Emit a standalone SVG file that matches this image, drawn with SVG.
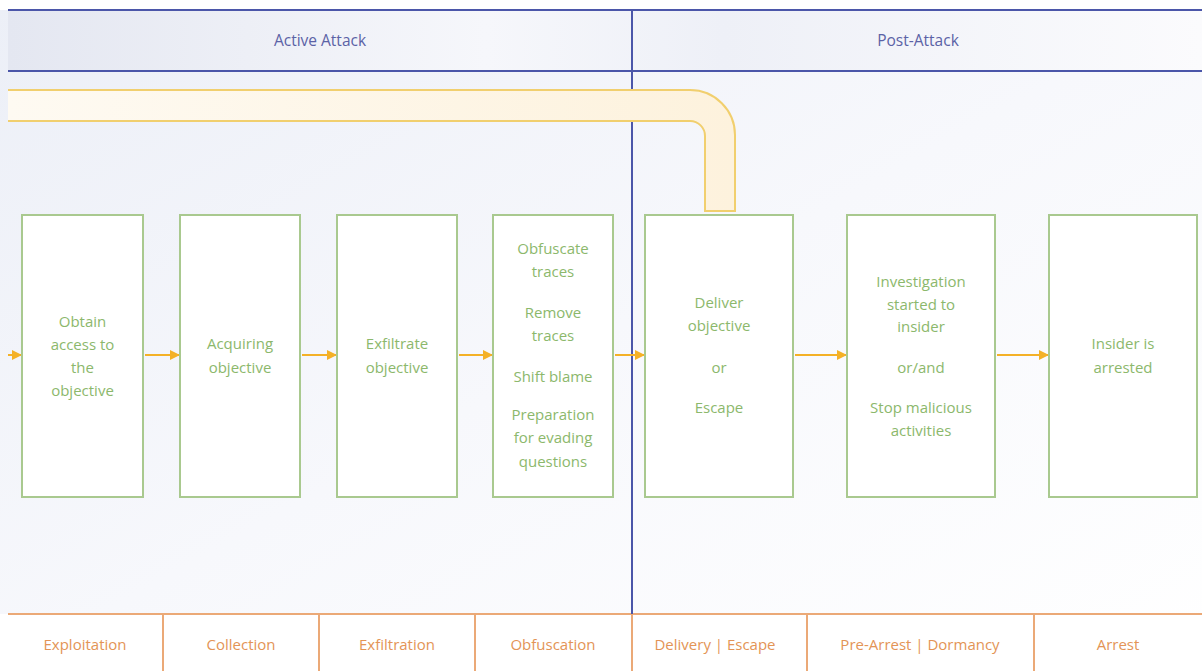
<svg xmlns="http://www.w3.org/2000/svg" width="1202" height="671" viewBox="0 0 1202 671">
<defs>
<linearGradient id="bg" x1="0" y1="0" x2="1" y2="1">
<stop offset="0" stop-color="#eceff7"/>
<stop offset="0.5" stop-color="#f7f8fc"/>
<stop offset="1" stop-color="#ffffff"/>
</linearGradient>
<linearGradient id="hdr" x1="0" y1="0" x2="1" y2="0">
<stop offset="0" stop-color="#e4e7f1"/>
<stop offset="0.4" stop-color="#f6f7fb"/>
<stop offset="0.6" stop-color="#eef0f7"/>
<stop offset="1" stop-color="#fbfbfd"/>
</linearGradient>
<linearGradient id="pipe" x1="0" y1="0" x2="1" y2="0">
<stop offset="0" stop-color="#fefaf2"/>
<stop offset="1" stop-color="#fdf2dd"/>
</linearGradient>
<marker id="ah" viewBox="0 0 10 10" refX="9" refY="5" markerWidth="10" markerHeight="10" markerUnits="userSpaceOnUse" orient="auto">
<path d="M0,0 L10,5 L0,10 Z" fill="#f4b127"/>
</marker>
<style>
.box{fill:#ffffff;stroke:#a9c98f;stroke-width:2}
.bt{font-family:"Open Sans","Liberation Sans",sans-serif;font-size:15px;fill:#8cb86c;text-anchor:middle}
.ht{font-family:"Open Sans","Liberation Sans",sans-serif;font-size:15.5px;fill:#5b62a6;text-anchor:middle}
.ft{font-family:"Open Sans","Liberation Sans",sans-serif;font-size:15px;fill:#e39456;text-anchor:middle}
.blue{stroke:#4b56a9;stroke-width:2;fill:none}
.org{stroke:#eba977;stroke-width:2;fill:none}
.arr{stroke:#f4b127;stroke-width:2;fill:none;marker-end:url(#ah)}
</style>
</defs>
<rect x="0" y="0" width="1202" height="671" fill="url(#bg)"/>
<rect x="0" y="0" width="1202" height="10" fill="#ffffff"/>
<g id="header">
<rect x="8" y="10" width="1194" height="61" fill="url(#hdr)"/>
<line class="blue" x1="8" y1="10" x2="1202" y2="10"/>
<line class="blue" x1="8" y1="71" x2="1202" y2="71"/>
<text class="ht" x="320" y="46">Active Attack</text>
<text class="ht" x="918" y="46">Post-Attack</text>
</g>
<g id="footer">
<rect x="0" y="614" width="1202" height="57" fill="#ffffff"/>
<line class="org" x1="8" y1="614" x2="1202" y2="614"/>
<line class="org" x1="163" y1="614" x2="163" y2="671"/>
<line class="org" x1="319" y1="614" x2="319" y2="671"/>
<line class="org" x1="475" y1="614" x2="475" y2="671"/>
<line class="org" x1="632" y1="614" x2="632" y2="671"/>
<line class="org" x1="807" y1="614" x2="807" y2="671"/>
<line class="org" x1="1034" y1="614" x2="1034" y2="671"/>
<text class="ft" x="85" y="650">Exploitation</text>
<text class="ft" x="241" y="650">Collection</text>
<text class="ft" x="397" y="650">Exfiltration</text>
<text class="ft" x="553" y="650">Obfuscation</text>
<text class="ft" x="715" y="650">Delivery | Escape</text>
<text class="ft" x="920" y="650">Pre-Arrest | Dormancy</text>
<text class="ft" x="1118" y="650">Arrest</text>
</g>
<line class="blue" x1="632" y1="10" x2="632" y2="614"/>
<g id="connectors">
<path d="M8,90 H690 A45,45 0 0 1 735,135 V211 H705 V136 A15,15 0 0 0 690,121 H8 Z" fill="url(#pipe)" stroke="none"/>
<path d="M8,90 H690 A45,45 0 0 1 735,135 V211 H705 V136 A15,15 0 0 0 690,121 H8" fill="none" stroke="#f1cf6e" stroke-width="2"/>
<line class="arr" x1="8" y1="355" x2="21" y2="355"/>
<line class="arr" x1="145" y1="355" x2="179" y2="355"/>
<line class="arr" x1="302" y1="355" x2="336" y2="355"/>
<line class="arr" x1="459" y1="355" x2="492" y2="355"/>
<line class="arr" x1="615" y1="355" x2="644" y2="355"/>
<line class="arr" x1="795" y1="355" x2="846" y2="355"/>
<line class="arr" x1="997" y1="355" x2="1048" y2="355"/>
</g>
<g id="n1">
<rect class="box" x="22" y="215" width="121" height="282"/>
<text class="bt" x="82.5" y="327">Obtain</text>
<text class="bt" x="82.5" y="350">access to</text>
<text class="bt" x="82.5" y="373">the</text>
<text class="bt" x="82.5" y="396">objective</text>
</g>
<g id="n2">
<rect class="box" x="180" y="215" width="120" height="282"/>
<text class="bt" x="240" y="349">Acquiring</text>
<text class="bt" x="240" y="373">objective</text>
</g>
<g id="n3">
<rect class="box" x="337" y="215" width="120" height="282"/>
<text class="bt" x="397" y="349">Exfiltrate</text>
<text class="bt" x="397" y="373">objective</text>
</g>
<g id="n4">
<rect class="box" x="493" y="215" width="120" height="282"/>
<text class="bt" x="553" y="254">Obfuscate</text>
<text class="bt" x="553" y="277">traces</text>
<text class="bt" x="553" y="318">Remove</text>
<text class="bt" x="553" y="341">traces</text>
<text class="bt" x="553" y="382">Shift blame</text>
<text class="bt" x="553" y="420">Preparation</text>
<text class="bt" x="553" y="443">for evading</text>
<text class="bt" x="553" y="467">questions</text>
</g>
<g id="n5">
<rect class="box" x="645" y="215" width="148" height="282"/>
<text class="bt" x="719" y="308">Deliver</text>
<text class="bt" x="719" y="331">objective</text>
<text class="bt" x="719" y="373">or</text>
<text class="bt" x="719" y="413">Escape</text>
</g>
<g id="n6">
<rect class="box" x="847" y="215" width="148" height="282"/>
<text class="bt" x="921" y="287">Investigation</text>
<text class="bt" x="921" y="310">started to</text>
<text class="bt" x="921" y="332">insider</text>
<text class="bt" x="921" y="373">or/and</text>
<text class="bt" x="921" y="413">Stop malicious</text>
<text class="bt" x="921" y="436">activities</text>
</g>
<g id="n7">
<rect class="box" x="1049" y="215" width="148" height="282"/>
<text class="bt" x="1123" y="349">Insider is</text>
<text class="bt" x="1123" y="373">arrested</text>
</g>
</svg>
